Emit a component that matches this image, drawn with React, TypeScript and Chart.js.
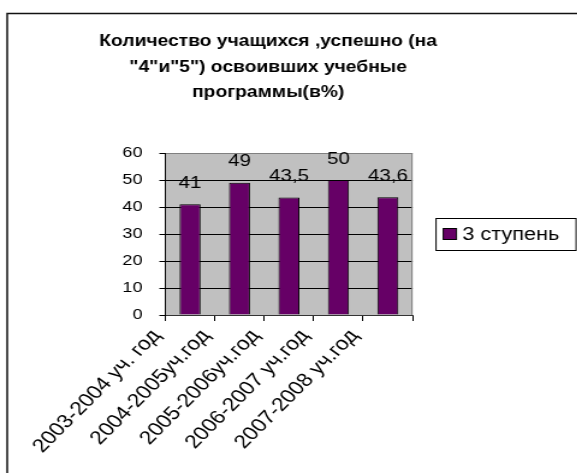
import { useEffect, useRef } from 'react';
import { Chart, registerables } from 'chart.js';

Chart.register(...registerables);

const titleLines = ['Количество учащихся ,успешно (на', '"4"и"5") освоивших учебные', 'программы(в%)'];
const categories = ['2003-2004 уч. год', '2004-2005уч.год', '2005-2006уч.год', '2006-2007 уч.год', '2007-2008 уч.год'];
const seriesLabel = '3 ступень';
const values = [41, 49, 43.5, 50, 43.6];
const yMin = 0;
const yMax = 60;
const yStep = 10;

const SX = 1.2;
const W = 577 / SX;
const H = 473;
const FONT = "'Liberation Sans', Arial, sans-serif";
const BAR_COLOR = '#660066';

const fmt = (v: number) => String(v).replace('.', ',');

const decorPlugin = {
  id: 'decor',
  beforeDraw(chart: any) {
    const { ctx, chartArea: a } = chart;
    ctx.save();
    ctx.fillStyle = '#ffffff';
    ctx.fillRect(0, 0, chart.width, chart.height);
    ctx.fillStyle = '#C0C0C0';
    ctx.fillRect(a.left, a.top, a.right - a.left, a.bottom - a.top);
    ctx.restore();
  },
  afterDatasetsDraw(chart: any) {
    const { ctx, chartArea: a } = chart;
    ctx.save();
    ctx.strokeStyle = '#808080';
    ctx.lineWidth = 1;
    ctx.beginPath();
    ctx.moveTo(a.right - 0.5, a.top);
    ctx.lineTo(a.right - 0.5, a.bottom);
    ctx.stroke();
    const meta = chart.getDatasetMeta(0);
    ctx.fillStyle = '#000';
    ctx.font = `17px ${FONT}`;
    ctx.textAlign = 'center';
    ctx.textBaseline = 'middle';
    meta.data.forEach((bar: any, i: number) => {
      ctx.fillText(fmt(values[i]), bar.x, bar.y - 21);
    });
    ctx.restore();
  },
  afterDraw(chart: any) {
    const { ctx, chartArea: a } = chart;
    ctx.save();
    // outer frame
    ctx.strokeStyle = '#111';
    ctx.lineWidth = 1.5;
    ctx.strokeRect(6, 13.5, chart.width + 20, chart.height + 20);
    // title
    ctx.fillStyle = '#000';
    ctx.font = `bold 16px ${FONT}`;
    ctx.textAlign = 'center';
    ctx.textBaseline = 'middle';
    titleLines.forEach((line, i) => {
      ctx.fillText(line, 223, 42 + i * 25.5);
    });
    // legend
    const lx = a.right + 19.5;
    const lw = 116.5;
    const cy = (a.top + a.bottom) / 2;
    const lh = 32;
    ctx.fillStyle = '#fff';
    ctx.fillRect(lx, cy - lh / 2, lw, lh);
    ctx.strokeStyle = '#000';
    ctx.lineWidth = 1;
    ctx.strokeRect(lx, Math.round(cy - lh / 2) + 0.5, lw, lh);
    const ds = chart.data.datasets[0];
    ctx.fillStyle = ds.backgroundColor;
    ctx.fillRect(lx + 6, cy - 5.5, 11, 11);
    ctx.strokeStyle = '#000';
    ctx.strokeRect(lx + 6, cy - 5.5, 11, 11);
    ctx.fillStyle = '#000';
    ctx.font = `18px ${FONT}`;
    ctx.textAlign = 'left';
    ctx.textBaseline = 'middle';
    ctx.fillText(ds.label, lx + 22, cy + 1);
    ctx.restore();
  },
};

export default function App() {
  const ref = useRef<HTMLCanvasElement | null>(null);

  useEffect(() => {
    if (!ref.current) return;
    const chart = new Chart(ref.current, {
      type: 'bar',
      data: {
        labels: categories,
        datasets: [
          {
            label: seriesLabel,
            data: values,
            backgroundColor: BAR_COLOR,
            borderColor: '#000',
            borderWidth: 1,
            barPercentage: 0.425,
            categoryPercentage: 1,
          },
        ],
      },
      options: {
        animation: false,
        responsive: true,
        maintainAspectRatio: false,
        layout: { padding: { left: 96.7, right: 137.7, top: 153, bottom: 0 } },
        plugins: {
          legend: { display: false },
          tooltip: { enabled: false },
          title: { display: false },
        },
        scales: {
          x: {
            offset: true,
            grid: { display: true, drawOnChartArea: false, offset: true, color: '#000', tickLength: 6 },
            border: { display: true, color: '#333', width: 1 },
            ticks: {
              autoSkip: false,
              maxRotation: 50,
              minRotation: 50,
              color: '#000',
              font: { family: FONT, size: 19 },
              padding: 4,
              labelOffset: -28,
            },
            afterFit: (s: any) => {
              s.height = 158;
            },
          },
          y: {
            min: yMin,
            max: yMax,
            grid: {
              color: (c: any) => (c.tick && c.tick.value === yMax ? '#808080' : '#000'),
              tickColor: '#000',
              tickLength: 5,
            },
            border: { display: true, color: '#000', width: 1 },
            ticks: {
              stepSize: yStep,
              color: '#000',
              font: { family: FONT, size: 15 },
              padding: 14,
            },
            afterFit: (s: any) => {
              s.width = 40.8;
            },
          },
        },
      },
      plugins: [decorPlugin],
    });
    return () => chart.destroy();
  }, []);

  return (
    <div
      style={{
        position: 'absolute',
        left: 0,
        top: 0,
        width: `${W}px`,
        height: `${H}px`,
        transform: `scaleX(${SX})`,
        transformOrigin: '0 0',
      }}
    >
      <canvas ref={ref} />
    </div>
  );
}
